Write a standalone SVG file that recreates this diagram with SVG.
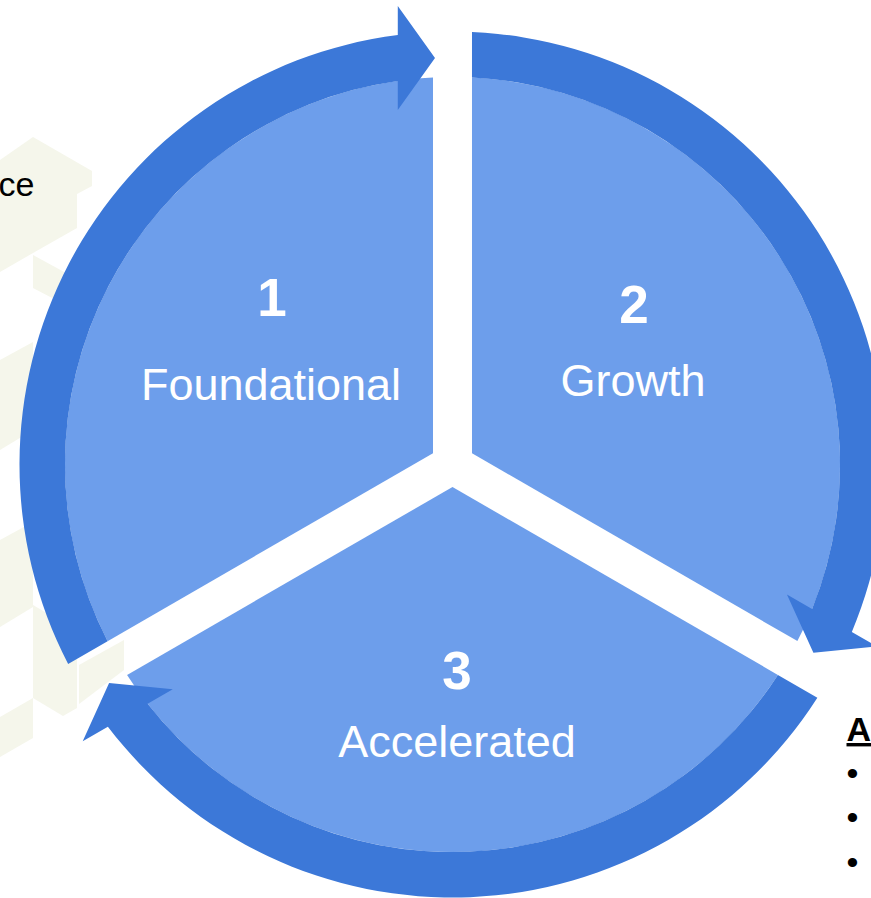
<svg xmlns="http://www.w3.org/2000/svg" xmlns:xlink="http://www.w3.org/1999/xlink" width="871" height="898" viewBox="0 0 871 898">
<style>
.bg{fill:#f5f6eb}
.sector{fill:#6d9eeb}
.arrow{fill:#3c78d8}
.num{font-family:"Liberation Sans",Arial,sans-serif;font-weight:bold;font-size:53px;fill:#ffffff;text-anchor:middle}
.lbl{font-family:"Liberation Sans",Arial,sans-serif;font-size:45px;fill:#ffffff;text-anchor:middle}
.side{font-family:"Liberation Sans",Arial,sans-serif;font-size:34px;fill:#000000}
</style>
<defs>
<path id="sec" d="M433,453.24 L433,77.49 A387.5,387.5 0 0 0 107.59,641.13 Z"/>
<path id="arr" d="M68.14,663.9 A433,433 0 0 1 397.79,34.97 L397.79,5.91 L435,57.88 L397.79,109.91 L397.79,80.88 A387.5,387.5 0 0 0 107.59,641.13 Z"/>
</defs>
<rect width="871" height="898" fill="#ffffff"/>
<g id="background">
<polygon class="bg" points="0,160 33,137 92,171 92,186 77,194 77,228 33,253 0,272"/>
<polygon class="bg" points="33,255 66,273 56,300 33,288"/>
<polygon class="bg" points="0,360 33,342 33,430 0,450"/>
<polygon class="bg" points="0,540 33,522 33,607 0,627"/>
<polygon class="bg" points="33,605 77,631 77,708 63,716 33,698"/>
<polygon class="bg" points="79,665 124,640 124,670 79,704"/>
<polygon class="bg" points="0,717 33,698 33,738 0,757"/>
</g>
<g id="side-text">
<text class="side" x="34.5" y="196" text-anchor="end" font-size="35">ce</text>
<text class="side" x="846.5" y="741" font-weight="bold" text-decoration="underline">A</text>
<text class="side" x="846.5" y="784.5">•</text>
<text class="side" x="846.5" y="829">•</text>
<text class="side" x="846.5" y="874">•</text>
</g>
<g id="node-1">
<use xlink:href="#sec" class="sector"/>
<text class="num" x="272" y="316">1</text>
<text class="lbl" x="271" y="400">Foundational</text>
</g>
<g id="node-2">
<use xlink:href="#sec" class="sector" transform="rotate(120 452.5 464.5)"/>
<text class="num" x="634" y="323">2</text>
<text class="lbl" x="633" y="396">Growth</text>
</g>
<g id="node-3">
<use xlink:href="#sec" class="sector" transform="rotate(240 452.5 464.5)"/>
<text class="num" x="457" y="689">3</text>
<text class="lbl" x="457" y="757">Accelerated</text>
</g>
<g id="connectors">
<use xlink:href="#arr" class="arrow"/>
<use xlink:href="#arr" class="arrow" transform="rotate(120 452.5 464.5)"/>
<use xlink:href="#arr" class="arrow" transform="rotate(240 452.5 464.5)"/>
</g>
</svg>
